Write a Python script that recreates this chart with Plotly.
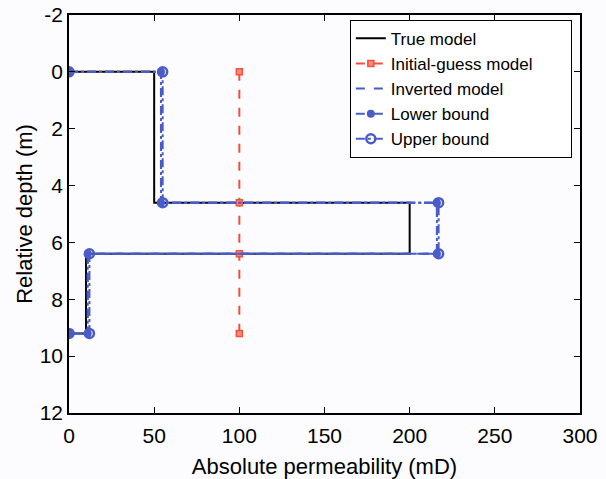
import plotly.graph_objects as go

# Layer interfaces (relative depth, m) and permeability per step profile (mD)
depth_steps = [0, 0, 4.6, 4.6, 6.4, 6.4, 9.2, 9.2]
true_perm = [0, 50, 50, 200, 200, 10, 10, 0]
inverted_perm = [0, 54, 54, 216, 216, 11, 11, 0]
lower_perm = [0, 54, 54, 216, 216, 11, 11, 0]
upper_perm = [0, 55, 55, 217, 217, 12, 12, 0]

guess_depth = [0, 4.6, 6.4, 9.2]
guess_perm = [100, 100, 100, 100]

x_ticks = [0, 50, 100, 150, 200, 250, 300]
y_ticks = [-2, 0, 2, 4, 6, 8, 10, 12]
y_tick_text = ["-2", "0", "2", "4", "6", "8", "10", "12"]

BLUE = "#4a5cc8"
RED = "#f2503e"
FONT = "Liberation Sans"
PAD = "\u00a0" * 7  # extra room on the right side of the legend box

fig = go.Figure()
fig.add_trace(go.Scatter(x=true_perm, y=depth_steps, mode="lines", name="True model",
                         line=dict(color="black", width=2)))
fig.add_trace(go.Scatter(x=guess_perm, y=guess_depth, mode="lines+markers",
                         name="Initial-guess model" + PAD,
                         line=dict(color=RED, width=2, dash="dash"),
                         marker=dict(symbol="square", size=6, color="#ff8a7a",
                                     line=dict(color=RED, width=1.5))))
fig.add_trace(go.Scatter(x=inverted_perm, y=depth_steps, mode="lines", name="Inverted model",
                         line=dict(color=BLUE, width=2, dash="dash")))
fig.add_trace(go.Scatter(x=lower_perm, y=depth_steps, mode="lines+markers", name="Lower bound",
                         line=dict(color=BLUE, width=2, dash="dashdot"),
                         marker=dict(symbol="circle", size=8, color=BLUE)))
fig.add_trace(go.Scatter(x=upper_perm, y=depth_steps, mode="lines+markers", name="Upper bound",
                         line=dict(color=BLUE, width=2, dash="dashdot"),
                         marker=dict(symbol="circle-open", size=9, color=BLUE,
                                     line=dict(width=2.5))))

axis_common = dict(showline=True, linecolor="black", linewidth=1.5, mirror="ticks",
                   ticks="inside", ticklen=6, tickcolor="black", showgrid=False,
                   zeroline=False, automargin=False,
                   tickfont=dict(size=21, color="black", family=FONT))

fig.update_xaxes(range=[0, 300], tickvals=x_ticks, ticklabelstandoff=3,
                 title=dict(text="Absolute permeability (mD)",
                            font=dict(size=22, color="black", family=FONT), standoff=17),
                 **axis_common)
fig.update_yaxes(range=[12, -2], tickvals=y_ticks, ticktext=y_tick_text,
                 title=dict(text="Relative depth (m)",
                            font=dict(size=22, color="black", family=FONT), standoff=1),
                 **axis_common)

fig.update_layout(
    width=606, height=479,
    margin=dict(l=69, r=26, t=15, b=66),
    paper_bgcolor="#fcfcfe", plot_bgcolor="#fcfcfe",
    font=dict(family=FONT, color="black"),
    showlegend=True,
    legend=dict(x=0.984, y=0.988, xanchor="right", yanchor="top",
                bgcolor="white", bordercolor="black", borderwidth=1,
                font=dict(size=17, family=FONT, color="black"),
                tracegroupgap=0, itemwidth=30),
)

fig.write_html("out.html")
